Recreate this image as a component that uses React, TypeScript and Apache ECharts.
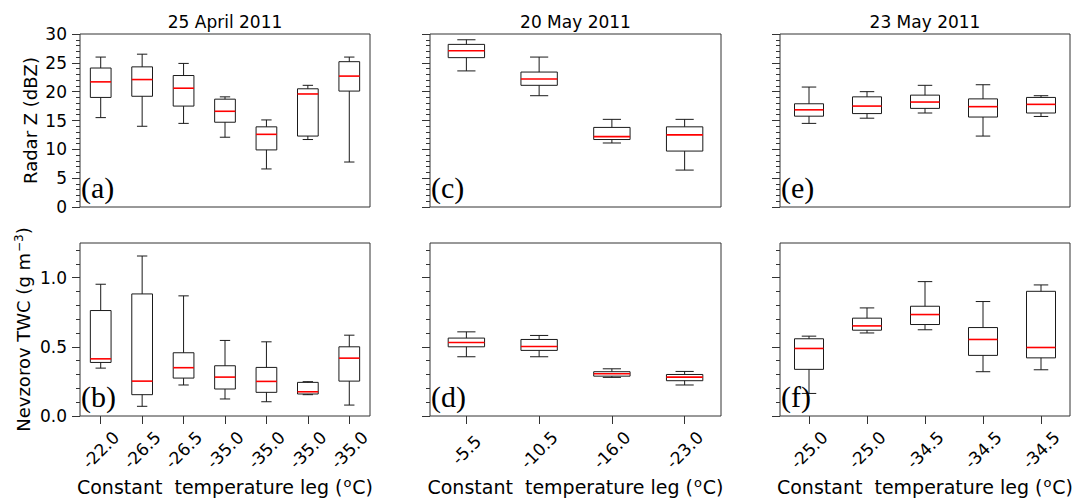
import React, { useEffect, useRef } from 'react';
import * as echarts from 'echarts';

// ---- categories (constant temperature legs, °C) ----
const CATS_APR25 = ['-22.0', '-26.5', '-26.5', '-35.0', '-35.0', '-35.0', '-35.0'];
const CATS_MAY20 = ['-5.5', '-10.5', '-16.0', '-23.0'];
const CATS_MAY23 = ['-25.0', '-25.0', '-34.5', '-34.5', '-34.5'];

// ---- box statistics: [whiskerLow, Q1, median, Q3, whiskerHigh] ----
const Z_APR25 = [
  [15.5, 19.0, 21.7, 24.1, 26.0],
  [14.0, 19.2, 22.1, 24.3, 26.5],
  [14.5, 17.5, 20.6, 22.8, 24.9],
  [12.1, 14.7, 16.6, 18.7, 19.1],
  [6.6, 9.9, 12.6, 13.9, 15.1],
  [11.7, 12.3, 19.6, 20.5, 21.1],
  [7.8, 20.1, 22.7, 25.2, 26.0],
];
const TWC_APR25 = [
  [0.346, 0.387, 0.413, 0.762, 0.952],
  [0.07, 0.154, 0.252, 0.882, 1.156],
  [0.224, 0.274, 0.349, 0.457, 0.868],
  [0.123, 0.195, 0.281, 0.363, 0.546],
  [0.103, 0.171, 0.25, 0.351, 0.536],
  [0.154, 0.159, 0.175, 0.243, 0.248],
  [0.079, 0.252, 0.418, 0.5, 0.584],
];
const Z_MAY20 = [
  [23.6, 25.9, 27.1, 28.2, 29.0],
  [19.3, 21.1, 22.2, 23.4, 26.0],
  [11.1, 11.7, 12.2, 13.8, 15.2],
  [6.4, 9.7, 12.5, 13.9, 15.2],
];
const TWC_MAY20 = [
  [0.428, 0.5, 0.531, 0.563, 0.608],
  [0.428, 0.474, 0.502, 0.553, 0.582],
  [0.279, 0.288, 0.305, 0.32, 0.341],
  [0.224, 0.255, 0.281, 0.3, 0.322],
];
const Z_MAY23 = [
  [14.5, 15.75, 16.85, 17.9, 20.8],
  [15.4, 16.2, 17.5, 19.1, 20.0],
  [16.3, 17.1, 18.2, 19.4, 21.1],
  [12.3, 15.6, 17.4, 18.75, 21.2],
  [15.7, 16.3, 17.8, 19.0, 19.3],
];
const TWC_MAY23 = [
  [0.163, 0.337, 0.488, 0.558, 0.577],
  [0.6, 0.62, 0.651, 0.707, 0.781],
  [0.623, 0.661, 0.733, 0.793, 0.971],
  [0.32, 0.438, 0.553, 0.639, 0.827],
  [0.334, 0.42, 0.495, 0.901, 0.947],
];

const TITLES = ['25 April 2011', '20 May 2011', '23 May 2011'];
const PANEL_LABELS = ['(a)', '(b)', '(c)', '(d)', '(e)', '(f)'];
const Z_TICKS_MAJOR = 5;
const TWC_MAJOR_TICKS = [0, 0.5, 1.0];
const TWC_MINOR_TICKS = [0.1, 0.2, 0.3, 0.4, 0.6, 0.7, 0.8, 0.9, 1.1, 1.2];

const FONT = '"DejaVu Sans", Verdana, sans-serif';
const FRAME = '#333';
const BOXC = '#1a1a1a';

export default function App() {
  const ref = useRef<HTMLDivElement>(null);
  useEffect(() => {
    if (!ref.current) return;
    const chart = echarts.init(ref.current, null, { renderer: 'svg' });

    const panels = [
      { cats: CATS_APR25, data: Z_APR25, kind: 'z', col: 0 },
      { cats: CATS_APR25, data: TWC_APR25, kind: 'twc', col: 0 },
      { cats: CATS_MAY20, data: Z_MAY20, kind: 'z', col: 1 },
      { cats: CATS_MAY20, data: TWC_MAY20, kind: 'twc', col: 1 },
      { cats: CATS_MAY23, data: Z_MAY23, kind: 'z', col: 2 },
      { cats: CATS_MAY23, data: TWC_MAY23, kind: 'twc', col: 2 },
    ];
    const colLeft = [80, 430, 780];
    const colWidth = [290, 291, 290];
    const rowTop = { z: 34, twc: 243 };
    const H = 173;

    const grids = panels.map((p) => ({
      left: colLeft[p.col],
      top: rowTop[p.kind],
      width: colWidth[p.col],
      height: H,
      show: true,
      borderColor: FRAME,
      borderWidth: 1,
      backgroundColor: 'transparent',
      containLabel: false,
      outerBoundsMode: 'none',
    }));

    const xAxes = panels.map((p, i) => {
      const bottom = p.kind === 'twc';
      return {
        type: 'category',
        gridIndex: i,
        data: p.cats,
        boundaryGap: true,
        axisLine: { show: false },
        axisTick: {
          show: bottom,
          alignWithLabel: true,
          length: 8,
          lineStyle: { color: FRAME, width: 1 },
        },
        axisLabel: {
          show: bottom,
          interval: 0,
          rotate: 45,
          align: 'center',
          verticalAlign: 'middle',
          margin: 34,
          fontSize: 17,
          fontFamily: FONT,
          color: '#000',
        },
        splitLine: { show: false },
        name: bottom ? 'Constant  temperature leg ({sup|o}C)' : '',
        nameLocation: 'middle',
        nameGap: 60,
        nameTextStyle: {
          fontSize: 19,
          fontFamily: FONT,
          color: '#000',
          rich: {
            sup: { fontSize: 13, fontFamily: FONT, verticalAlign: 'top', color: '#000', padding: [0, 1, 8, 1] },
          },
        },
      };
    });

    const yAxes: any[] = panels.map((p, i) => {
      const showLab = p.col === 0;
      if (p.kind === 'z') {
        return {
          type: 'value',
          gridIndex: i,
          min: 0,
          max: 30,
          interval: Z_TICKS_MAJOR,
          axisLine: { show: false },
          axisTick: { show: true, length: 8, lineStyle: { color: FRAME } },
          minorTick: { show: true, splitNumber: 5, length: 4, lineStyle: { color: FRAME } },
          splitLine: { show: false },
          minorSplitLine: { show: false },
          axisLabel: { show: showLab, margin: 13, fontSize: 17, fontFamily: FONT, color: '#000' },
          name: showLab ? 'Radar Z (dBZ)' : '',
          nameLocation: 'middle',
          nameGap: 41,
          nameTextStyle: { fontSize: 18, fontFamily: FONT, color: '#000' },
        };
      }
      return {
        type: 'value',
        gridIndex: i,
        min: 0,
        max: 1.25,
        axisLine: { show: false },
        axisTick: { show: true, length: 8, lineStyle: { color: FRAME }, customValues: TWC_MAJOR_TICKS },
        splitLine: { show: false },
        axisLabel: {
          show: showLab,
          customValues: TWC_MAJOR_TICKS,
          margin: 13,
          fontSize: 17,
          fontFamily: FONT,
          color: '#000',
          formatter: (v: number) => v.toFixed(1),
        },
        name: showLab ? 'Nevzorov TWC (g m{sup|−3})' : '',
        nameLocation: 'middle',
        nameGap: 47,
        nameTextStyle: {
          fontSize: 18,
          fontFamily: FONT,
          color: '#000',
          rich: {
            sup: { fontSize: 12, fontFamily: FONT, verticalAlign: 'top', color: '#000', padding: [0, 0, 8, 1] },
          },
        },
      };
    });
    // minor-tick axes for the TWC panels
    panels.forEach((p, i) => {
      if (p.kind !== 'twc') return;
      yAxes.push({
        type: 'value',
        gridIndex: i,
        min: 0,
        max: 1.25,
        position: 'left',
        offset: 0,
        axisLine: { show: false },
        axisTick: { show: true, length: 4, lineStyle: { color: FRAME }, customValues: TWC_MINOR_TICKS },
        axisLabel: { show: false },
        splitLine: { show: false },
      });
    });

    const renderBox = (params: any, api: any) => {
      const i = api.value(0);
      const lo = api.value(1);
      const q1 = api.value(2);
      const med = api.value(3);
      const q3 = api.value(4);
      const hi = api.value(5);
      const band = api.size([1, 0])[0];
      const bw = band * 0.5;
      const cw = band * 0.25;
      const x = api.coord([i, med])[0];
      const y = (v: number) => api.coord([i, v])[1];
      const st = { stroke: BOXC, lineWidth: 1, fill: null };
      return {
        type: 'group',
        children: [
          { type: 'line', shape: { x1: x, y1: y(hi), x2: x, y2: y(q3) }, style: st },
          { type: 'line', shape: { x1: x, y1: y(q1), x2: x, y2: y(lo) }, style: st },
          { type: 'line', shape: { x1: x - cw / 2, y1: y(hi), x2: x + cw / 2, y2: y(hi) }, style: st },
          { type: 'line', shape: { x1: x - cw / 2, y1: y(lo), x2: x + cw / 2, y2: y(lo) }, style: st },
          {
            type: 'rect',
            shape: { x: x - bw / 2, y: y(q3), width: bw, height: y(q1) - y(q3) },
            style: { stroke: BOXC, lineWidth: 1, fill: 'rgba(0,0,0,0)' },
          },
          {
            type: 'line',
            shape: { x1: x - bw / 2, y1: y(med), x2: x + bw / 2, y2: y(med) },
            style: { stroke: '#ff0000', lineWidth: 1.6 },
          },
        ],
      };
    };

    const series = panels.map((p, i) => ({
      type: 'custom',
      xAxisIndex: i,
      yAxisIndex: i,
      renderItem: renderBox,
      encode: { x: 0, y: [1, 2, 3, 4, 5] },
      data: p.data.map((d, k) => [k, ...d]),
      clip: false,
    }));

    const graphics: any[] = [];
    TITLES.forEach((t, c) => {
      graphics.push({
        type: 'text',
        x: colLeft[c] + colWidth[c] / 2,
        y: 22,
        style: { text: t, fontSize: 17, fontFamily: FONT, fill: '#000', align: 'center', verticalAlign: 'middle' },
      });
    });
    panels.forEach((p, i) => {
      graphics.push({
        type: 'text',
        x: colLeft[p.col] + 1,
        y: rowTop[p.kind] + H - 5,
        z: 100,
        style: {
          text: PANEL_LABELS[i],
          fontSize: 30,
          fontFamily: '"Liberation Serif", "Times New Roman", serif',
          fill: '#000',
          align: 'left',
          verticalAlign: 'bottom',
        },
      });
    });

    chart.setOption({
      animation: false,
      backgroundColor: '#fff',
      grid: grids,
      xAxis: xAxes,
      yAxis: yAxes,
      series,
      graphic: graphics,
    } as any);

    return () => chart.dispose();
  }, []);

  return (
    <div
      ref={ref}
      style={{ position: 'fixed', left: 0, top: 0, width: 1074, height: 498, background: '#fff' }}
    />
  );
}
